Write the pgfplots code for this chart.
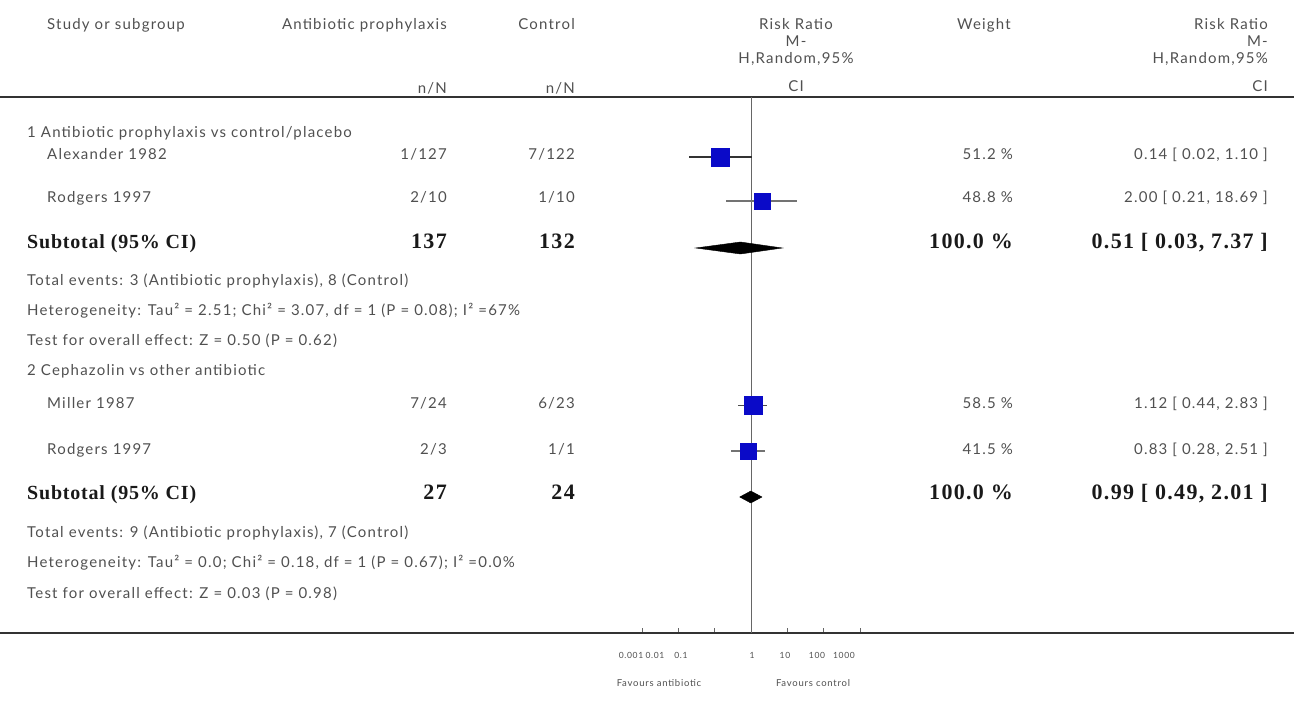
\documentclass[border=0pt]{standalone}
\usepackage{pgfplots}
\pgfplotsset{compat=1.18}
\usepackage{fontspec}
\setmainfont{Lato}[LetterSpace=8]
\newfontfamily\tnr{Liberation Serif}[LetterSpace=4]
\newfontfamily\tnrn{Liberation Serif}[LetterSpace=6]
\definecolor{txt}{RGB}{80,80,80}
\definecolor{sq}{RGB}{10,10,200}
\begin{document}
\begin{tikzpicture}[x=1pt,y=1pt]
\begin{axis}[at={(0,0)},anchor=south west,scale only axis,
  width=1294pt,height=536pt,
  xmode=log,xmin=2.14e-21,xmax=8.83e14,ymin=-633,ymax=-97,
  axis x line*=bottom,axis y line=none,
  axis line style={line width=1.8pt,black!80,-},
  xtick={0.001,0.01,0.1,1,10,100,1000},
  xticklabels={},
  xminorticks=false,
  tick align=inside,major tick length=5pt,
  tick style={line width=0.8pt,black!60},
  clip=false]
\draw[line width=1.8pt,black!80] (rel axis cs:0,1) -- (rel axis cs:1,1);
\addplot[no marks,black!60,line width=0.8pt] coordinates {(1,-97)(1,-633)};
% confidence intervals
\addplot[no marks,black!80,line width=1.3pt] coordinates {(0.02,-157)(1.10,-157)};
\addplot[no marks,black!55,line width=1.3pt] coordinates {(0.21,-201)(18.69,-201)};
\addplot[no marks,black!70,line width=1.3pt] coordinates {(0.44,-405.5)(2.83,-405.5)};
\addplot[no marks,black!55,line width=1.3pt] coordinates {(0.28,-451)(2.51,-451)};
% point estimates
\addplot[only marks,mark=square*,mark size=9pt,sq,mark options={draw=sq,fill=sq}] coordinates {(0.14,-157)};
\addplot[only marks,mark=square*,mark size=8pt,sq,mark options={draw=sq,fill=sq}] coordinates {(2.00,-201)};
\addplot[only marks,mark=square*,mark size=9pt,sq,mark options={draw=sq,fill=sq}] coordinates {(1.12,-405.5)};
\addplot[only marks,mark=square*,mark size=8pt,sq,mark options={draw=sq,fill=sq}] coordinates {(0.83,-451)};
% pooled estimates
\addplot[fill=black,draw=black] coordinates {(0.03,-248)(0.51,-242)(7.37,-248)(0.51,-254)} -- cycle;
\addplot[fill=black,draw=black] coordinates {(0.49,-497)(0.99,-491)(2.01,-497)(0.99,-503)} -- cycle;
\end{axis}
\begin{scope}[shift={(0,633)},yscale=-1,
  every node/.style={inner sep=0pt,text=txt,font=\fontsize{15}{16}\selectfont},
  b/.style={text=black!90,font=\fontsize{20}{21}\selectfont\tnr\bfseries},
  bn/.style={text=black!90,font=\fontsize{22}{23}\selectfont\tnrn\bfseries},
  tl/.style={font=\fontsize{8.5}{9}\selectfont,anchor=mid},
  fv/.style={font=\fontsize{9.5}{10}\selectfont,anchor=mid}]
% header
\node[anchor=mid west] at (47,27) {Study or subgroup};
\node[anchor=mid east] at (447,27) {Antibiotic prophylaxis};
\node[anchor=mid east] at (575,27) {Control};
\node[anchor=mid east] at (447,91) {n/N};
\node[anchor=mid east] at (575,91) {n/N};
\node[anchor=mid] at (796,27) {Risk Ratio};
\node[anchor=mid] at (796,44) {M-};
\node[anchor=mid] at (796,61) {H,Random,95\%};
\node[anchor=mid] at (796,89) {CI};
\node[anchor=mid] at (984,27) {Weight};
\node[anchor=mid east] at (1268,27) {Risk Ratio};
\node[anchor=mid east] at (1268,44) {M-};
\node[anchor=mid east] at (1268,61) {H,Random,95\%};
\node[anchor=mid east] at (1268,89) {CI};
% group 1
\node[anchor=mid west] at (27,135) {1 Antibiotic prophylaxis vs control/placebo};
\node[anchor=mid west] at (47,157) {Alexander 1982};
\node[anchor=mid east] at (447,157) {1/127};
\node[anchor=mid east] at (575,157) {7/122};
\node[anchor=mid east] at (1013,157) {51.2 \%};
\node[anchor=mid east] at (1268,157) {0.14 [ 0.02, 1.10 ]};
\node[anchor=mid west] at (47,200) {Rodgers 1997};
\node[anchor=mid east] at (447,200) {2/10};
\node[anchor=mid east] at (575,200) {1/10};
\node[anchor=mid east] at (1013,200) {48.8 \%};
\node[anchor=mid east] at (1268,200) {2.00 [ 0.21, 18.69 ]};
\node[b,anchor=mid west] at (27,246) {Subtotal (95\% CI)};
\node[bn,anchor=mid east] at (447,246) {137};
\node[bn,anchor=mid east] at (575,246) {132};
\node[bn,anchor=mid east] at (1013,246) {100.0 \%};
\node[bn,anchor=mid east] at (1268,246) {0.51 [ 0.03, 7.37 ]};
\node[anchor=mid west] at (27,283) {Total events: 3 (Antibiotic prophylaxis), 8 (Control)};
\node[anchor=mid west] at (27,313) {Heterogeneity: Tau² = 2.51; Chi² = 3.07, df = 1 (P = 0.08); I² =67\%};
\node[anchor=mid west] at (27,343) {Test for overall effect: Z = 0.50 (P = 0.62)};
% group 2
\node[anchor=mid west] at (27,373) {2 Cephazolin vs other antibiotic};
\node[anchor=mid west] at (47,406) {Miller 1987};
\node[anchor=mid east] at (447,406) {7/24};
\node[anchor=mid east] at (575,406) {6/23};
\node[anchor=mid east] at (1013,406) {58.5 \%};
\node[anchor=mid east] at (1268,406) {1.12 [ 0.44, 2.83 ]};
\node[anchor=mid west] at (47,452) {Rodgers 1997};
\node[anchor=mid east] at (447,452) {2/3};
\node[anchor=mid east] at (575,452) {1/1};
\node[anchor=mid east] at (1013,452) {41.5 \%};
\node[anchor=mid east] at (1268,452) {0.83 [ 0.28, 2.51 ]};
\node[b,anchor=mid west] at (27,497) {Subtotal (95\% CI)};
\node[bn,anchor=mid east] at (447,497) {27};
\node[bn,anchor=mid east] at (575,497) {24};
\node[bn,anchor=mid east] at (1013,497) {100.0 \%};
\node[bn,anchor=mid east] at (1268,497) {0.99 [ 0.49, 2.01 ]};
\node[anchor=mid west] at (27,535) {Total events: 9 (Antibiotic prophylaxis), 7 (Control)};
\node[anchor=mid west] at (27,565) {Heterogeneity: Tau² = 0.0; Chi² = 0.18, df = 1 (P = 0.67); I² =0.0\%};
\node[anchor=mid west] at (27,596) {Test for overall effect: Z = 0.03 (P = 0.98)};
% tick labels
\node[tl] at (631,656) {0.001};
\node[tl] at (655,656) {0.01};
\node[tl] at (681,656) {0.1};
\node[tl] at (752,656) {1};
\node[tl] at (785,656) {10};
\node[tl] at (817,656) {100};
\node[tl] at (844,656) {1000};
% footer
\node[fv] at (659,684) {Favours antibiotic};
\node[fv] at (813,684) {Favours control};
\end{scope}
\pgfresetboundingbox
\path (0,-69) rectangle (1294,633);
\end{tikzpicture}
\end{document}
